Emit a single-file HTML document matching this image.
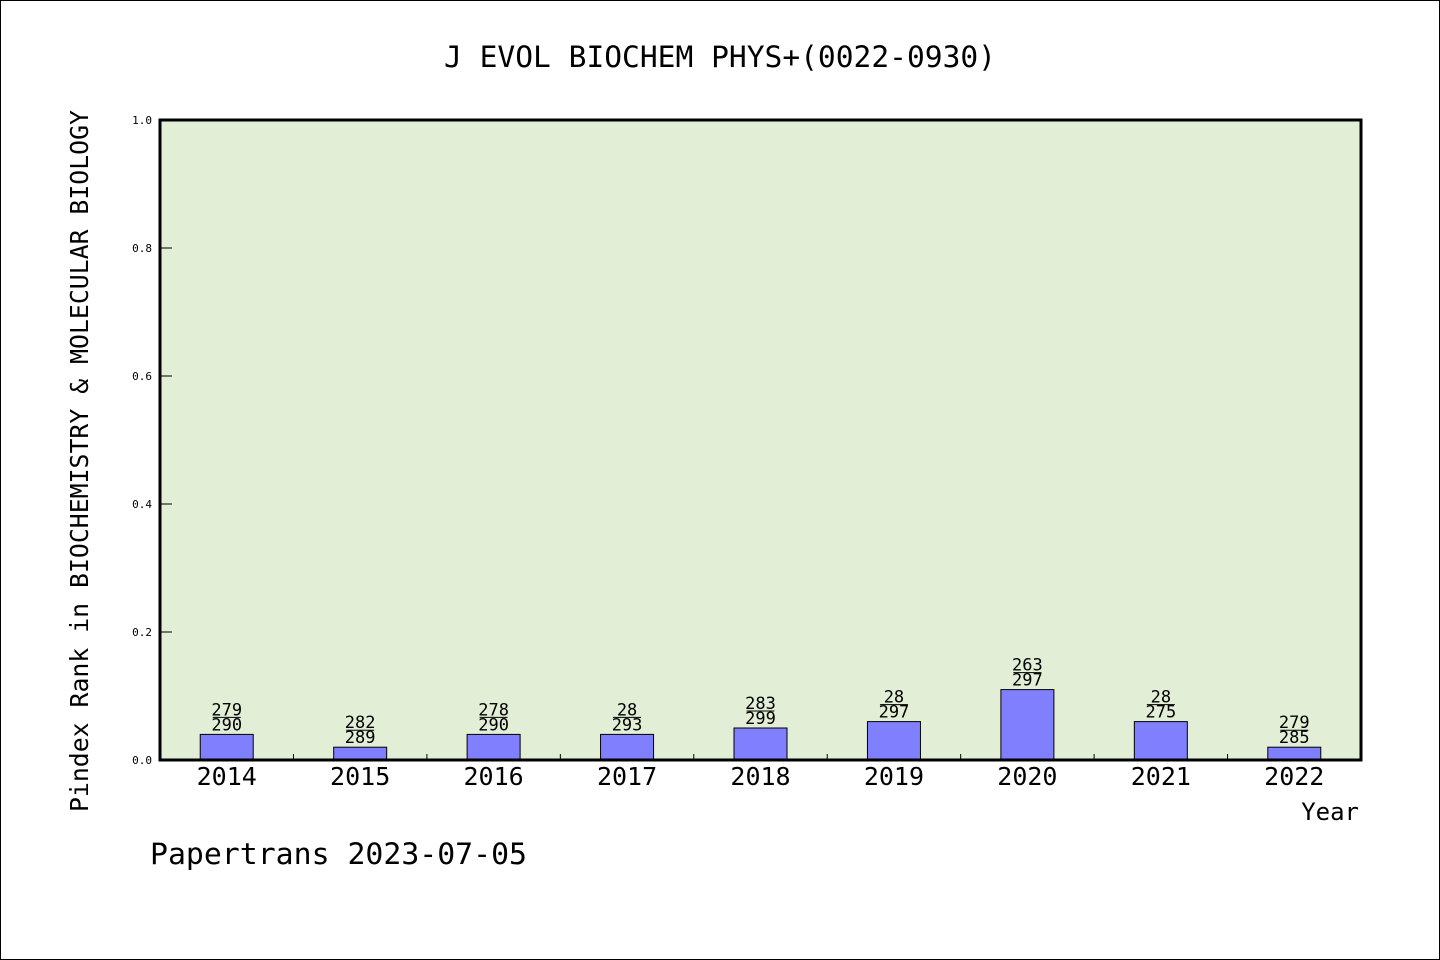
<!DOCTYPE html>
<html><head><meta charset="utf-8"><style>
html,body{margin:0;padding:0;background:#fff}
svg{display:block;font-family:"DejaVu Sans Mono","Liberation Mono",monospace}
</style></head><body>
<svg id="c" width="1440" height="960" xmlns="http://www.w3.org/2000/svg">
<rect x="0.5" y="0.5" width="1439" height="959" fill="#fff" stroke="#000"/>
<text x="720" y="67" text-anchor="middle" font-size="29" textLength="552" lengthAdjust="spacingAndGlyphs">J EVOL BIOCHEM PHYS+(0022-0930)</text>
<rect x="160" y="120" width="1201" height="640" fill="#e2efd6"/>
<g id="marks"></g>
<rect x="160" y="120" width="1201" height="640" fill="none" stroke="#000" stroke-width="3"/>
<text transform="translate(88,461) rotate(-90)" text-anchor="middle" font-size="25" textLength="702" lengthAdjust="spacingAndGlyphs">Pindex Rank in BIOCHEMISTRY &amp; MOLECULAR BIOLOGY</text>
<text x="1359" y="820" text-anchor="end" font-size="24">Year</text>
<text x="150" y="864" font-size="29" textLength="377" lengthAdjust="spacingAndGlyphs">Papertrans 2023-07-05</text>
</svg>
<script>
const years=["2014","2015","2016","2017","2018","2019","2020","2021","2022"];
const values=[0.04,0.02,0.04,0.04,0.05,0.06,0.11,0.06,0.02];
const ranks=["279","282","278","28","283","28","263","28","279"];
const totals=["290","289","290","293","299","297","297","275","285"];
const yTicks=[0,0.2,0.4,0.6,0.8,1.0];
const NS="http://www.w3.org/2000/svg";
const X0=160,W=1201,Y0=760,H=640;
const bw=W/years.length;
const xs=i=>X0+bw*(i+0.5);
const ys=v=>Y0-v*H;
const g=document.getElementById('marks');
function mk(t,a,txt){const e=document.createElementNS(NS,t);for(const k in a)e.setAttribute(k,a[k]);if(txt!==undefined)e.textContent=txt;g.appendChild(e);return e;}
yTicks.forEach(v=>{
 const y=ys(v);
 const t=mk('line',{x1:X0,x2:X0+12,y1:y,y2:y,stroke:'#000','stroke-width':1});
 
 
 const l=mk('text',{x:X0-8,y:y+4,'text-anchor':'end','font-size':11},v.toFixed(1));
 
 
});
for(let i=1;i<years.length;i++){
 const x=X0+bw*i;
 const t=mk('line',{x1:x,x2:x,y1:Y0,y2:Y0-6,stroke:'#000','stroke-width':1});
 
 
}
years.forEach((yr,i)=>{
 const cx=xs(i),top=ys(values[i]);
 const b=mk('rect',{x:cx-26.5,y:top,width:53,height:Y0-top,fill:'#8080ff',stroke:'#000','stroke-width':1});
 
 
 const n=mk('text',{x:cx,y:top-19,'text-anchor':'middle','font-size':17},ranks[i]);
 
 
 const d=mk('text',{x:cx,y:top-4,'text-anchor':'middle','font-size':17},totals[i]);
 
 
 const ln=mk('line',{x1:cx-14,x2:cx+14,y1:top-17,y2:top-17,stroke:'#000','stroke-width':1});
 
 
 const xl=mk('text',{x:cx,y:785,'text-anchor':'middle','font-size':25},yr);
 
 
});
</script>
</body></html>
